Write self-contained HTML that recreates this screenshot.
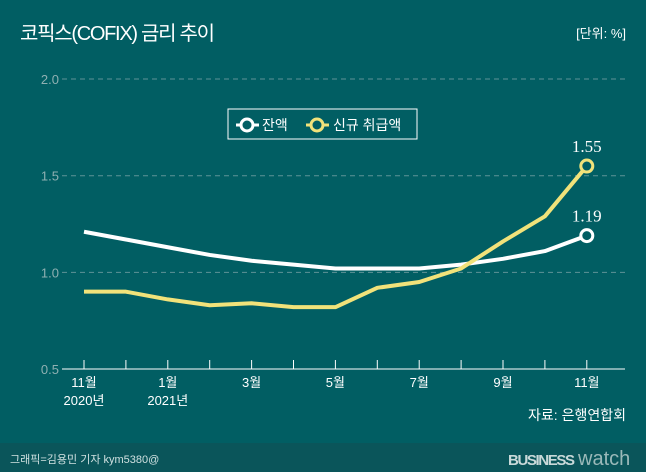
<!DOCTYPE html>
<html><head><meta charset="utf-8"><style>
body{margin:0;width:646px;height:472px;overflow:hidden;background:#015e63;font-family:"Liberation Sans","Noto Sans CJK KR",sans-serif;}
svg{display:block}
</style></head><body>
<svg width="646" height="472">
<rect x="0" y="0" width="646" height="472" fill="#015e63"/>
<rect x="0" y="443" width="646" height="29" fill="#0a555a"/>
<text x="20" y="40" font-size="20" fill="#fff" textLength="195">코픽스(COFIX) 금리 추이</text>
<text x="626" y="38" font-size="13" fill="#fff" text-anchor="end">[단위: %]</text>
<g id="grid"></g><g id="axis"></g><g id="lines"></g>
<g>
<rect x="228" y="109" width="189" height="30" fill="none" stroke="#fff" stroke-width="1"/>
<line x1="236" y1="125" x2="259" y2="125" stroke="#fff" stroke-width="3"/>
<circle cx="247" cy="125" r="6" fill="#015e63" stroke="#fff" stroke-width="3"/>
<text x="262" y="130" font-size="14" fill="#fff">잔액</text>
<line x1="306" y1="125" x2="329" y2="125" stroke="#f1e27a" stroke-width="3"/>
<circle cx="317" cy="125" r="6" fill="#015e63" stroke="#f1e27a" stroke-width="3"/>
<text x="333" y="130" font-size="14" fill="#fff">신규 취급액</text>
</g>
<text x="626" y="420" font-size="14" fill="#fff" text-anchor="end">자료: 은행연합회</text>
<text x="10" y="463" font-size="11" fill="#cfe0e0">그래픽=김용민 기자 kym5380@</text>
<text x="508" y="465" font-size="15" font-weight="bold" fill="#c9d9d9" textLength="67">BUSINESS</text>
<text x="578" y="465" font-size="20" fill="#9bb9b9">watch</text>
</svg>
<script>
const categories=['11월','12월','1월','2월','3월','4월','5월','6월','7월','8월','9월','10월','11월'];
const balance=[1.21,1.17,1.13,1.09,1.06,1.04,1.02,1.02,1.02,1.04,1.07,1.11,1.19];
const newLoans=[0.90,0.90,0.86,0.83,0.84,0.82,0.82,0.92,0.95,1.02,1.16,1.29,1.55];
const yTicks=[0.5,1.0,1.5,2.0];
const xLabels=[['11월','2020년'],null,['1월','2021년'],null,['3월'],null,['5월'],null,['7월'],null,['9월'],null,['11월']];
const NS='http://www.w3.org/2000/svg';
const xs=i=>84+i*41.9;
const ys=v=>369-(v-0.5)*193.3;
function mk(t,a,p){const e=document.createElementNS(NS,t);for(const k in a)e.setAttribute(k,a[k]);p.appendChild(e);return e;}
const grid=document.getElementById('grid'),axis=document.getElementById('axis'),lines=document.getElementById('lines');
yTicks.forEach(v=>{
  if(v>0.5){const l=mk('line',{x1:62,x2:625,y1:ys(v),y2:ys(v),stroke:'#5f9397','stroke-dasharray':'5,4','stroke-width':1},grid);
  
  }
  const t=mk('text',{x:59,y:ys(v)+5,'font-size':13,fill:'#8fb0b2','text-anchor':'end'},grid);t.textContent=v.toFixed(1);
  
  
});
const ax=mk('line',{x1:62,x2:625,y1:369,y2:369,stroke:'#fff','stroke-width':1},axis);


categories.forEach((c,i)=>{
  const tk=mk('line',{x1:xs(i),x2:xs(i),y1:360,y2:369,stroke:'#fff','stroke-width':1},axis);
  
  
  if(xLabels[i]){xLabels[i].forEach((s,j)=>{const t=mk('text',{x:xs(i),y:387+j*18,'font-size':13,fill:'#fff','text-anchor':'middle'},axis);t.textContent=s;
  
  });}
});
function series(vals,color,name){
  const p=mk('polyline',{points:vals.map((v,i)=>xs(i)+','+ys(v)).join(' '),fill:'none',stroke:color,'stroke-width':4,'stroke-linejoin':'round'},lines);
  
  
  const n=vals.length-1;
  const c=mk('circle',{cx:xs(n),cy:ys(vals[n]),r:6,fill:'#015e63',stroke:color,'stroke-width':3},lines);
  
  
  const t=mk('text',{x:xs(n),y:ys(vals[n])-14,'font-size':17,fill:'#fff','text-anchor':'middle','font-family':'Liberation Serif, serif'},lines);
  t.textContent=vals[n].toFixed(2);
  
  
}
series(balance,'#ffffff','balance');
series(newLoans,'#f1e27a','new-loans');
</script>
</body></html>
